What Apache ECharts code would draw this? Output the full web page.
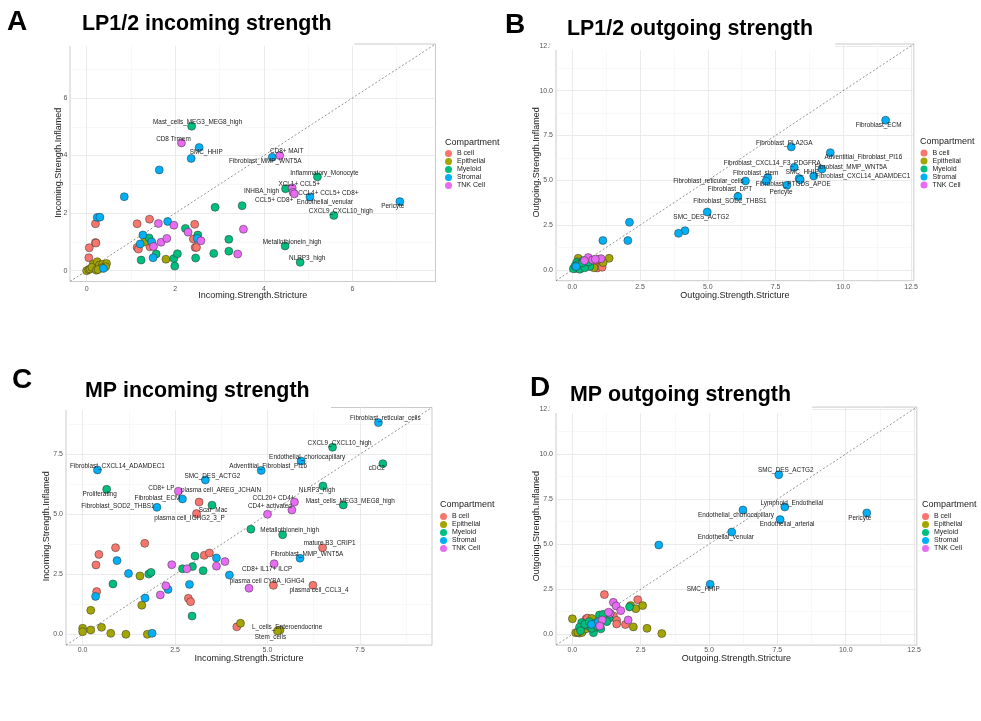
<!DOCTYPE html>
<html>
<head>
<meta charset="utf-8">
<title>Incoming / outgoing strength</title>
<script src="https://cdn.jsdelivr.net/npm/echarts@6.0.0/dist/echarts.min.js"></script>
<style>
  body { margin: 0; background: #fff; }
  #main { width: 981px; height: 721px; }
</style>
</head>
<body>
<div id="main"></div>
<script>
// compartments and their ggplot hue colours
const groups = ['B cell', 'Epithelial', 'Myeloid', 'Stromal', 'TNK Cell'];
const groupColors = ['#F8766D', '#A3A500', '#00BF7D', '#00B0F6', '#E76BF3'];

// rows: [stricture, inflamed, compartment index, label]
const lpIncoming = [
  [2.37, 5.02, 2, 'Mast_cells_MEG3_MEG8_high'], [2.14, 4.44, 4, 'CD8 Trmem'], [2.54, 4.28, 3, 'SMC_HHIP'],
  [2.36, 3.90, 3, ''], [1.64, 3.50, 3, ''], [0.85, 2.57, 3, ''],
  [4.36, 4.00, 4, 'CD8+ MAIT'], [4.19, 3.94, 3, 'Fibroblast_MMP_WNT5A'], [5.21, 3.26, 2, 'Inflammatory_Monocyte'],
  [4.64, 2.88, 4, 'XCL1+ CCL5+'], [4.49, 2.85, 2, 'INHBA_high'], [4.66, 2.72, 4, 'CCL5+ CD8+'],
  [4.69, 2.67, 4, 'CCL4+ CCL5+ CD8+'], [5.04, 2.56, 3, 'Endothelial_venular'], [7.07, 2.40, 3, 'Pericyte'],
  [5.58, 1.92, 2, 'CXCL9_CXCL10_high'], [4.48, 0.86, 2, 'Metallothionein_high'], [4.82, 0.29, 2, 'NLRP3_high'],
  [2.90, 2.20, 2, ''], [3.51, 2.26, 2, ''], [3.54, 1.44, 4, ''], [3.21, 1.09, 2, ''], [3.21, 0.68, 2, ''],
  [3.41, 0.58, 4, ''], [2.87, 0.60, 2, ''],
  [0.24, 1.85, 3, ''], [0.30, 1.86, 3, ''], [0.20, 1.63, 0, ''], [0.20, 0.98, 0, ''], [0.21, 0.96, 0, ''],
  [0.06, 0.80, 0, ''], [0.05, 0.45, 0, ''],
  [1.14, 1.63, 0, ''], [1.42, 1.79, 0, ''], [1.62, 1.64, 4, ''], [1.83, 1.71, 3, ''], [1.97, 1.58, 4, ''],
  [2.23, 1.47, 2, ''], [2.29, 1.34, 4, ''], [2.44, 1.61, 0, ''], [2.50, 1.12, 3, ''], [2.51, 1.24, 2, ''],
  [2.41, 1.10, 0, ''], [2.58, 1.04, 4, ''], [2.45, 0.81, 0, ''], [2.48, 0.81, 0, ''],
  [1.27, 1.24, 3, ''], [1.14, 0.81, 0, ''], [1.17, 0.75, 0, ''], [1.21, 0.93, 3, ''], [1.31, 1.00, 1, ''],
  [1.41, 1.14, 2, ''], [1.47, 1.00, 3, ''], [1.43, 0.83, 0, ''], [1.51, 0.84, 4, ''], [1.68, 0.99, 4, ''],
  [1.81, 1.12, 4, ''], [1.50, 0.45, 3, ''], [1.57, 0.58, 2, ''], [1.23, 0.37, 2, ''], [1.79, 0.40, 1, ''],
  [1.97, 0.42, 2, ''], [2.05, 0.59, 2, ''], [1.99, 0.16, 2, ''], [2.46, 0.44, 2, ''],
  [0.00, 0.00, 1, ''], [0.05, 0.04, 1, ''], [0.08, 0.06, 1, ''], [0.15, 0.23, 1, ''], [0.12, 0.12, 1, ''],
  [0.24, 0.31, 1, ''], [0.22, 0.02, 1, ''], [0.29, 0.20, 1, ''], [0.38, 0.08, 3, ''], [0.36, 0.22, 1, ''],
  [0.45, 0.25, 1, ''], [0.43, 0.14, 1, ''], [0.34, 0.10, 1, ''], [0.26, 0.04, 1, '']
];

const lpOutgoing = [
  [11.56, 8.35, 3, 'Fibroblast_ECM'], [8.08, 6.86, 3, 'Fibroblast_PLA2GA'], [9.52, 6.54, 3, 'Adventitial_Fibroblast_PI16'],
  [8.19, 5.72, 3, 'Fibroblast_CXCL14_F3_PDGFRA'], [9.21, 5.63, 3, 'Fibroblast_MMP_WNT5A'], [8.37, 5.10, 3, 'SMC_HHIP'],
  [8.91, 5.24, 3, 'Fibroblast_CXCL14_ADAMDEC1'], [7.21, 5.15, 3, 'Fibroblast_stem'], [7.15, 4.95, 3, 'Fibroblast_DPT'],
  [6.39, 4.96, 3, 'Fibroblast_reticular_cells'], [8.41, 5.03, 3, 'Fibroblast_PTGDS_APOE'], [7.92, 4.72, 3, 'Pericyte'],
  [6.11, 4.09, 3, 'Fibroblast_SOD2_THBS1'], [4.98, 3.23, 3, 'SMC_DES_ACTG2'],
  [4.16, 2.19, 3, ''], [3.92, 2.04, 3, ''], [2.11, 2.66, 3, ''], [2.05, 1.64, 3, ''], [1.13, 1.64, 3, ''],
  [0.22, 0.65, 1, ''], [1.36, 0.65, 1, ''], [1.14, 0.41, 1, ''], [0.59, 0.28, 1, ''], [0.26, 0.09, 1, ''],
  [0.20, 0.45, 1, ''], [0.80, 0.12, 1, ''], [0.12, 0.08, 1, ''],
  [0.59, 0.69, 4, ''], [0.75, 0.56, 4, ''], [1.06, 0.63, 4, ''], [0.85, 0.60, 4, ''], [0.45, 0.52, 4, ''],
  [0.96, 0.46, 0, ''], [1.02, 0.22, 0, ''], [0.92, 0.11, 0, ''], [0.84, 0.33, 0, ''], [1.08, 0.35, 0, ''],
  [0.95, 0.58, 0, ''], [1.10, 0.15, 0, ''],
  [0.04, 0.07, 2, ''], [0.16, 0.41, 2, ''], [0.34, 0.19, 2, ''], [0.53, 0.37, 2, ''], [0.41, 0.52, 2, ''],
  [0.65, 0.19, 2, ''], [0.28, 0.04, 2, ''], [0.22, 0.30, 2, ''], [0.46, 0.12, 2, ''], [0.60, 0.45, 2, ''],
  [0.10, 0.22, 2, ''], [0.38, 0.40, 2, ''], [0.14, 0.19, 3, '']
];

const mpIncoming = [
  [8.00, 8.82, 3, 'Fibroblast_reticular_cells'], [6.76, 7.79, 2, 'CXCL9_CXCL10_high'],
  [5.91, 7.22, 3, 'Endothelial_choriocapillary'], [8.12, 7.11, 2, 'cDC2'],
  [0.40, 6.85, 3, 'Fibroblast_CXCL14_ADAMDEC1'], [4.83, 6.83, 3, 'Adventitial_Fibroblast_PI16'],
  [3.32, 6.43, 3, 'SMC_DES_ACTG2'], [0.65, 6.04, 2, 'Proliferating'], [6.50, 6.18, 2, 'NLRP3_high'],
  [2.59, 5.96, 4, 'CD8+ LP'], [3.15, 5.51, 0, 'plasma cell_AREG_JCHAIN'], [2.70, 5.64, 3, 'Fibroblast_ECM'],
  [5.73, 5.51, 4, 'CCL20+ CD4+'], [7.05, 5.39, 2, 'Mast_cells_MEG3_MEG8_high'],
  [2.01, 5.29, 3, 'Fibroblast_SOD2_THBS1'], [3.50, 5.38, 2, 'Scar_Mac'], [5.66, 5.18, 4, 'CD4+ activated'],
  [5.00, 5.00, 4, ''], [3.08, 5.03, 0, 'plasma cell_IGHG2_3_P'], [4.55, 4.38, 2, ''],
  [5.41, 4.15, 2, 'Metallothionein_high'], [6.49, 3.61, 0, 'mature B3_CRIP1'],
  [5.88, 3.17, 3, 'Fibroblast_MMP_WNT5A'], [5.18, 2.94, 4, 'CD8+ IL17+ ILCP'],
  [4.50, 1.92, 4, 'plasma cell CYBA_IGHG4'], [5.16, 2.04, 0, ''], [6.23, 2.04, 0, 'plasma cell_CCL3_4'],
  [5.34, 0.18, 1, 'L_cells_Enteroendocrine'], [5.27, 0.14, 1, 'Stem_cells'],
  [4.17, 0.31, 0, ''], [4.27, 0.46, 1, ''],
  [0.44, 3.33, 0, ''], [0.89, 3.61, 0, ''], [0.36, 2.89, 0, ''], [1.68, 3.79, 0, ''], [0.93, 3.07, 3, ''],
  [1.24, 2.53, 3, ''], [1.55, 2.43, 1, ''], [1.79, 2.51, 2, ''], [1.85, 2.58, 2, ''], [0.82, 2.10, 2, ''],
  [0.38, 1.78, 0, ''], [0.35, 1.58, 3, ''], [0.22, 1.00, 1, ''], [0.00, 0.25, 1, ''], [0.00, 0.11, 1, ''],
  [0.22, 0.18, 1, ''], [0.51, 0.29, 1, ''], [0.76, 0.04, 1, ''], [1.17, 0.00, 1, ''], [1.75, 0.00, 1, ''],
  [1.88, 0.04, 3, ''], [1.60, 1.21, 1, ''], [1.69, 1.51, 3, ''], [2.10, 1.64, 4, ''], [2.25, 2.02, 4, ''],
  [2.31, 1.87, 3, ''], [2.41, 2.90, 4, ''], [2.70, 2.73, 2, ''], [2.82, 2.73, 4, ''], [2.97, 2.82, 2, ''],
  [3.04, 3.26, 2, ''], [3.29, 3.29, 0, ''], [3.43, 3.39, 0, ''], [3.26, 2.65, 2, ''], [3.62, 3.18, 3, ''],
  [3.62, 2.84, 4, ''], [3.85, 3.03, 4, ''], [3.97, 2.47, 3, ''], [2.89, 2.08, 3, ''], [2.86, 1.50, 0, ''],
  [2.92, 1.36, 0, ''], [2.96, 0.76, 2, '']
];

const mpOutgoing = [
  [7.55, 8.85, 3, 'SMC_DES_ACTG2'], [7.77, 7.06, 3, 'Lymphoid_Endothelial'],
  [6.24, 6.89, 3, 'Endothelial_choriocapillary'], [7.60, 6.36, 3, 'Endothelial_arterial'],
  [10.77, 6.73, 3, 'Pericyte'], [5.83, 5.67, 3, 'Endothelial_venular'], [3.16, 4.95, 3, ''],
  [5.04, 2.77, 3, 'SMC_HHIP'],
  [1.17, 2.20, 0, ''], [2.39, 1.92, 0, ''], [0.50, 0.85, 0, ''], [0.55, 0.90, 0, ''], [1.50, 1.02, 0, ''],
  [1.62, 0.77, 0, ''], [1.62, 0.57, 0, ''], [1.94, 0.54, 0, ''], [0.55, 0.43, 0, ''], [1.35, 1.10, 0, ''],
  [0.00, 0.86, 1, ''], [0.71, 0.88, 1, ''], [2.13, 1.59, 1, ''], [2.32, 1.42, 1, ''], [2.57, 1.59, 1, ''],
  [2.23, 0.41, 1, ''], [2.73, 0.33, 1, ''], [3.27, 0.04, 1, ''], [0.12, 0.09, 1, ''], [0.26, 0.07, 1, ''],
  [0.40, 0.24, 1, ''], [0.35, 0.10, 1, ''], [0.50, 0.30, 1, ''], [0.20, 0.12, 1, ''],
  [2.09, 1.52, 2, ''], [0.99, 1.07, 2, ''], [1.20, 0.98, 2, ''], [1.34, 0.89, 2, ''], [1.26, 0.70, 2, ''],
  [1.04, 0.30, 2, ''], [0.77, 0.09, 2, ''], [0.56, 0.48, 2, ''], [0.34, 0.65, 2, ''], [0.26, 0.39, 2, ''],
  [0.71, 0.33, 2, ''], [1.13, 1.11, 2, ''], [0.85, 0.62, 2, ''], [0.45, 0.55, 2, ''], [0.62, 0.70, 2, ''],
  [0.90, 0.45, 2, ''], [0.30, 0.20, 2, ''],
  [1.50, 1.77, 4, ''], [1.60, 1.57, 4, ''], [1.77, 1.31, 4, ''], [1.38, 1.16, 4, ''], [1.09, 0.79, 4, ''],
  [1.00, 0.46, 4, ''], [2.04, 0.79, 4, ''], [1.32, 1.22, 4, ''],
  [0.70, 0.55, 3, ''], [0.95, 0.70, 3, '']
];

// axis limits (before ggplot's 5% expansion) and tick values
const lpIncomingLimits = [0, 7.5];
const lpOutgoingLimits = [0, 12];
const mpIncomingLimits = [0, 9];
const mpOutgoingLimits = [0, 12];
const lpIncomingTicks = [0, 2, 4, 6];
const lpIncomingMinor = [1, 3, 5, 7];
const outgoingTicks = [0, 2.5, 5, 7.5, 10, 12.5];
const outgoingMinor = [1.25, 3.75, 6.25, 8.75, 11.25];
const mpIncomingTicks = [0, 2.5, 5, 7.5];
const mpIncomingMinor = [1.25, 3.75, 6.25, 8.75];

// where each repel label sits relative to its point (px)
const lpIncomingLabelOffset = {
  'Mast_cells_MEG3_MEG8_high': [6, -4], 'CD8 Trmem': [-8, -4], 'SMC_HHIP': [7, 5], 'CD8+ MAIT': [7, -4],
  'Fibroblast_MMP_WNT5A': [-7, 4], 'Inflammatory_Monocyte': [7, -4], 'XCL1+ CCL5+': [7, -4],
  'INHBA_high': [-24, 3], 'CCL4+ CCL5+ CD8+': [34, -1], 'CCL5+ CD8+': [-19, 8], 'Endothelial_venular': [15, 5],
  'Pericyte': [-7, 5], 'CXCL9_CXCL10_high': [7, -4], 'Metallothionein_high': [7, -4], 'NLRP3_high': [7, -4]
};
const lpOutgoingLabelOffset = {
  'Fibroblast_ECM': [-7, 5], 'Fibroblast_PLA2GA': [-7, -4], 'Adventitial_Fibroblast_PI16': [33, 5],
  'Fibroblast_CXCL14_F3_PDGFRA': [-22, -4], 'Fibroblast_MMP_WNT5A': [29, -2], 'SMC_HHIP': [3, -6],
  'Fibroblast_CXCL14_ADAMDEC1': [49, 0], 'Fibroblast_stem': [-12, -4], 'Fibroblast_DPT': [-36, 8],
  'Fibroblast_reticular_cells': [-37, 0], 'Fibroblast_PTGDS_APOE': [-7, 4], 'Pericyte': [-6, 7],
  'Fibroblast_SOD2_THBS1': [-8, 5], 'SMC_DES_ACTG2': [-6, 5]
};
const mpIncomingLabelOffset = {
  'Fibroblast_reticular_cells': [7, -4], 'CXCL9_CXCL10_high': [7, -4], 'Endothelial_choriocapillary': [6, -4],
  'cDC2': [-6, 5], 'Fibroblast_CXCL14_ADAMDEC1': [20, -4], 'Adventitial_Fibroblast_PI16': [7, -4],
  'SMC_DES_ACTG2': [7, -4], 'Proliferating': [-7, 5], 'NLRP3_high': [-6, 4], 'CD8+ LP': [-17, -3],
  'plasma cell_AREG_JCHAIN': [22, -12], 'Fibroblast_ECM': [-25, -1], 'CCL20+ CD4+': [-21, -4],
  'Mast_cells_MEG3_MEG8_high': [7, -4], 'Fibroblast_SOD2_THBS1': [-39, -1], 'Scar_Mac': [1, 5],
  'CD4+ activated': [-22, -4], 'plasma cell_IGHG2_3_P': [-7, 5], 'Metallothionein_high': [7, -4],
  'mature B3_CRIP1': [7, -4], 'Fibroblast_MMP_WNT5A': [7, -4], 'CD8+ IL17+ ILCP': [-7, 5],
  'plasma cell CYBA_IGHG4': [18, -7], 'plasma cell_CCL3_4': [6, 5], 'L_cells_Enteroendocrine': [7, -3],
  'Stem_cells': [-7, 6]
};
const mpOutgoingLabelOffset = {
  'SMC_DES_ACTG2': [7, -4], 'Lymphoid_Endothelial': [7, -4], 'Endothelial_choriocapillary': [-7, 5],
  'Endothelial_arterial': [7, 5], 'Pericyte': [-7, 5], 'Endothelial_venular': [-6, 5], 'SMC_HHIP': [-7, 5]
};

const FONT = "'Liberation Sans', Arial, Helvetica, sans-serif";

// panel layout
const panels = [
  { rows: lpIncoming, offsets: lpIncomingLabelOffset, limits: lpIncomingLimits, ticks: lpIncomingTicks, minor: lpIncomingMinor, digits: 0,
    xName: 'Incoming.Strength.Stricture', yName: 'Incoming.Strength.Inflamed',
    grid: { left: 70, top: 44, width: 365.5, height: 237.5 }, xGap: 10, xMargin: 4, yGap: 7, yMargin: 2.5,
    letter: ['A', 7, 22], title: ['LP1/2 incoming strength', 82, 24],
    legend: [445, 150], legendTitle: [445, 143], cover: [62, 38, 292, 8] },
  { rows: lpOutgoing, offsets: lpOutgoingLabelOffset, limits: lpOutgoingLimits, ticks: outgoingTicks, minor: outgoingMinor, digits: 1,
    xName: 'Outgoing.Strength.Stricture', yName: 'Outgoing.Strength.Inflamed',
    grid: { left: 556, top: 44, width: 357.8, height: 236.7 }, xGap: 10, xMargin: 3, yGap: 14.5, yMargin: 3,
    letter: ['B', 505, 25], title: ['LP1/2 outgoing strength', 567, 29],
    legend: [920.5, 149.5], legendTitle: [920, 142], cover: [549.5, 20, 285.5, 30] },
  { rows: mpIncoming, offsets: mpIncomingLabelOffset, limits: mpIncomingLimits, ticks: mpIncomingTicks, minor: mpIncomingMinor, digits: 1,
    xName: 'Incoming.Strength.Stricture', yName: 'Incoming.Strength.Inflamed',
    grid: { left: 66, top: 407.5, width: 366, height: 237.6 }, xGap: 9, xMargin: 1, yGap: 14.5, yMargin: 3,
    letter: ['C', 12, 380], title: ['MP incoming strength', 85, 391],
    legend: [440, 513], legendTitle: [440, 505], cover: [60, 402, 271, 8] },
  { rows: mpOutgoing, offsets: mpOutgoingLabelOffset, limits: mpOutgoingLimits, ticks: outgoingTicks, minor: outgoingMinor, digits: 1,
    xName: 'Outgoing.Strength.Stricture', yName: 'Outgoing.Strength.Inflamed',
    grid: { left: 556, top: 407.1, width: 360.8, height: 238 }, xGap: 9, xMargin: 1, yGap: 14.5, yMargin: 3,
    letter: ['D', 530, 388], title: ['MP outgoing strength', 570, 395],
    legend: [922, 513], legendTitle: [922, 505], cover: [549.5, 385, 262.5, 28] }
];

const grids = [], xAxes = [], yAxes = [], series = [], legends = [], graphics = [];

panels.forEach(function (p, i) {
  const span = p.limits[1] - p.limits[0];
  const lo = p.limits[0] - 0.05 * span;
  const hi = p.limits[1] + 0.05 * span;

  grids.push(Object.assign({ show: true, borderColor: '#bdbdbd', borderWidth: 0.8, backgroundColor: '#fff', outerBoundsMode: 'none' }, p.grid));

  const fmt = function (v) { return p.digits ? v.toFixed(p.digits) : String(v); };
  const major = function (isX) {
    return {
      type: 'value', gridIndex: i, min: lo, max: hi,
      name: isX ? p.xName : p.yName, nameLocation: 'middle', nameGap: isX ? p.xGap : p.yGap,
      nameMoveOverlap: false,
      nameTextStyle: { fontFamily: FONT, fontSize: 9, color: '#222' },
      axisLine: { show: false },
      axisTick: { show: false, customValues: p.ticks },
      axisLabel: { customValues: p.ticks, formatter: fmt, fontFamily: FONT, fontSize: 7, color: '#555', margin: isX ? p.xMargin : p.yMargin },
      splitLine: { show: true, lineStyle: { color: '#e6e6e6', width: 0.8 } }
    };
  };
  const minor = function () {
    return {
      type: 'value', gridIndex: i, min: lo, max: hi,
      axisLine: { show: false }, axisLabel: { show: false },
      axisTick: { show: false, customValues: p.minor },
      splitLine: { show: true, lineStyle: { color: '#f3f3f3', width: 0.6 } }
    };
  };
  xAxes.push(major(true), minor());
  yAxes.push(major(false), minor());

  // identity reference line across the panel
  series.push({
    type: 'line', xAxisIndex: 2 * i, yAxisIndex: 2 * i, silent: true, symbol: 'none', z: 1,
    data: [[lo, lo], [hi, hi]],
    lineStyle: { color: '#666', width: 0.7, type: [2, 2] }
  });

  groups.forEach(function (g, gi) {
    const rows = p.rows.filter(function (r) { return r[2] === gi; });
    const shifts = rows.map(function (r) { return r[3] ? (p.offsets[r[3]] || [7, -4]) : null; });
    const pts = rows.map(function (r) {
      if (!r[3]) return { value: [r[0], r[1]] };
      return { name: r[3], value: [r[0], r[1]], label: { show: true } };
    });
    series.push({
      type: 'scatter', name: g, xAxisIndex: 2 * i, yAxisIndex: 2 * i,
      symbolSize: 8, data: pts,
      itemStyle: { color: groupColors[gi], borderColor: '#333', borderWidth: 0.5, opacity: 1 },
      label: { show: false, position: 'inside', formatter: '{b}', fontFamily: FONT, fontSize: 6.4, color: '#222' },
      labelLayout: function (params) {
        const s = shifts[params.dataIndex];
        return s ? { dx: s[0], dy: s[1], hideOverlap: false } : {};
      },
      emphasis: { disabled: true }
    });
  });

  legends.push({
    left: p.legend[0], top: p.legend[1], orient: 'vertical', data: groups, selectedMode: false,
    icon: 'circle', itemWidth: 7, itemHeight: 7, itemGap: 1, padding: 0,
    itemStyle: { borderWidth: 0 },
    textStyle: { fontFamily: FONT, fontSize: 7, color: '#222', lineHeight: 7 }
  });

  graphics.push(
    { type: 'rect', shape: { x: p.cover[0], y: p.cover[1], width: p.cover[2], height: p.cover[3] }, style: { fill: '#fff' }, z: 90, silent: true },
    { type: 'text', x: p.letter[1], y: p.letter[2], z: 100, style: { text: p.letter[0], fontFamily: FONT, fontWeight: 'bold', fontSize: 28, fill: '#000', verticalAlign: 'middle' } },
    { type: 'text', x: p.title[1], y: p.title[2], z: 100, style: { text: p.title[0], fontFamily: FONT, fontWeight: 'bold', fontSize: 21.4, fill: '#000', verticalAlign: 'middle' } },
    { type: 'text', x: p.legendTitle[0], y: p.legendTitle[1], z: 100, style: { text: 'Compartment', fontFamily: FONT, fontSize: 9, fill: '#222', verticalAlign: 'middle' } }
  );
});

const chart = echarts.init(document.getElementById('main'));
chart.setOption({
  animation: false,
  backgroundColor: '#fff',
  grid: grids,
  xAxis: xAxes,
  yAxis: yAxes,
  legend: legends,
  series: series,
  graphic: { elements: graphics }
});
</script>
</body>
</html>
